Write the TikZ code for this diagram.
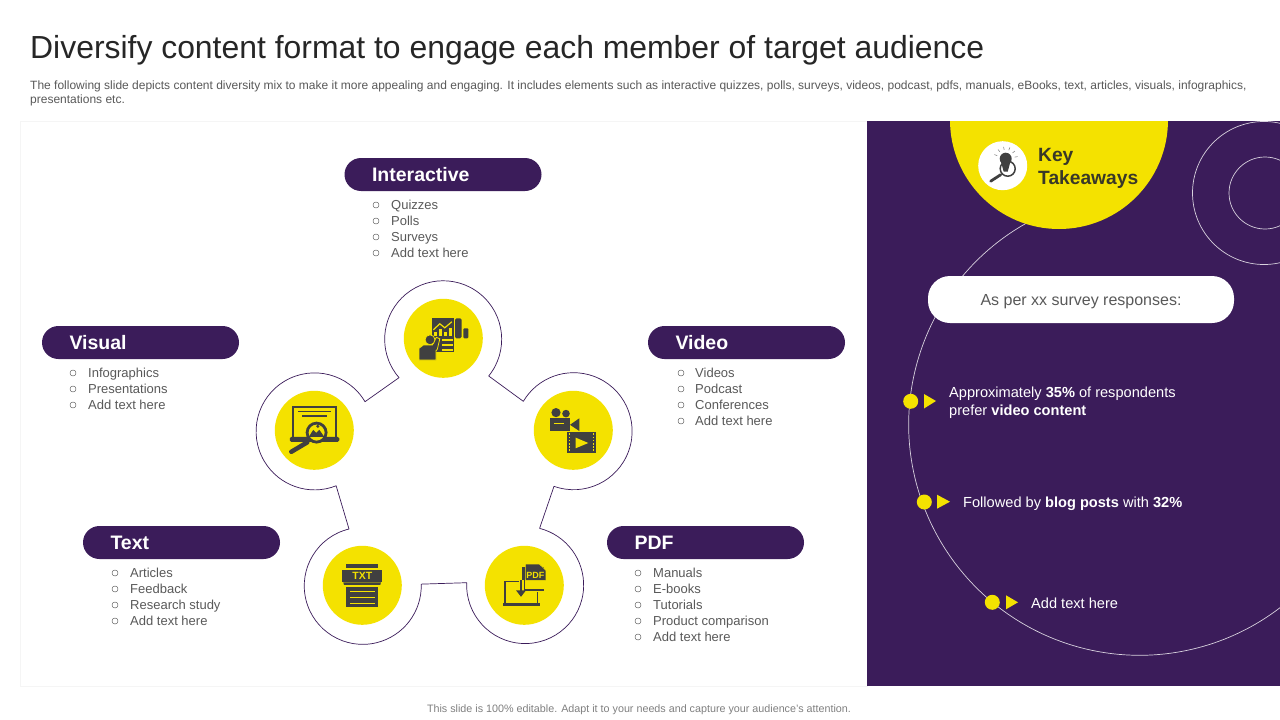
\documentclass[tikz,border=0pt]{standalone}
\usepackage{fontspec}
\setmainfont{Liberation Sans}
\usepackage{tikz}
\usetikzlibrary{calc,positioning}
\definecolor{deeppurple}{HTML}{3B1C5A}
\definecolor{keyyellow}{HTML}{F4E200}
\definecolor{icondark}{HTML}{404040}
\definecolor{bodygray}{HTML}{595959}
\newcommand{\pxfont}[1]{\fontsize{#1}{#1}\selectfont}

\begin{document}
\begin{tikzpicture}[
  x=1pt, y=-1pt,
  pill/.style={rectangle, fill=deeppurple, text=white, minimum height=33pt, minimum width=197pt, rounded corners=16.5pt, inner xsep=27.5pt, inner ysep=0pt, text width=142pt, align=left, font=\pxfont{19.5}\bfseries},
  listitem/.style={anchor=base west, inner sep=0pt, text=bodygray, font=\pxfont{13}},
  bulletring/.style={circle, draw=bodygray, line width=0.45pt, minimum size=6pt, inner sep=0pt},
  iconcircle/.style={circle, fill=keyyellow, minimum size=79pt, inner sep=0pt},
  dotmark/.style={circle, fill=keyyellow, minimum size=15pt, inner sep=0pt},
  takeaway/.style={anchor=west, inner sep=0pt, text=white, align=left, font=\fontsize{14.6}{18}\selectfont},
  guide/.style={draw=white!80!deeppurple, line width=0.7pt},
  iconline/.style={draw=keyyellow, line width=1.2pt}
]
\useasboundingbox (0,0) rectangle (1280,720);
\fill[white] (0,0) rectangle (1280,720);

% Header and footer
\node[anchor=base west, inner sep=0pt, text=black!85, font=\pxfont{31.9}] (title) at (30,58) {Diversify content format to engage each member of target audience};
\node[anchor=north west, inner sep=0pt, text=bodygray, align=left, font=\fontsize{12}{14}\selectfont] (subtitle) at (30,81) {The following slide depicts content diversity mix to make it more appealing and engaging. It includes elements such as interactive quizzes, polls, surveys, videos, podcast, pdfs, manuals, eBooks, text, articles, visuals, infographics,\\presentations etc.};
\node[inner sep=0pt, text=black!50, font=\pxfont{10.75}] (footer) at (639,709.5) {This slide is 100\% editable. Adapt it to your needs and capture your audience's attention.};

% Panels
\draw[black!4, fill=white] (20,121) rectangle (867,686);
\fill[deeppurple] (867,121) rectangle (1280,686);

% Right panel decoration
\coordinate (arcCentre) at (1139.6,424.4);
\begin{scope}
\clip (867,121) rectangle (1280,686);
\draw[guide] ($(arcCentre)+(245:230.9)$) arc (245:50:230.9);
\draw[guide] (1264,193) circle (71.5);
\draw[guide] (1265,193) circle (36);
\fill[keyyellow] (1059,120) circle (109);
\end{scope}

% Key takeaways badge
\node[circle, fill=white, minimum size=49pt, inner sep=0pt] (keybadge) at (1002.7,165.7) {};
\node[anchor=west, inner sep=0pt, text=icondark!90!keyyellow!70!black, align=left, font=\fontsize{19.2}{23}\selectfont\bfseries] (keytext) at (1038,168) {Key\\Takeaways};
\begin{scope}[shift={(keybadge.center)}]
\foreach \a in {-160,-130,-100,-70,-40,-10}
  \draw[icondark!70, line width=0.5pt] ($(3,-7)+(\a:9)$) -- ($(3,-7)+(\a:12)$);
\fill[icondark] (3,-7) circle (6);
\fill[icondark] (-2,-5) -- (8,-5) -- (5,6) -- (1,6) -- cycle;
\draw[icondark, line width=1.5pt] (5,3) circle (7.5);
\draw[icondark, line width=2.8pt, line cap=round] (-2,9) -- (-12,15.5);
\end{scope}

% Survey header
\node[rectangle, fill=white, minimum width=306pt, minimum height=47pt, rounded corners=22pt, inner sep=0pt, text=bodygray, text height=14pt, text depth=2pt, font=\pxfont{16}] (survey) at (1081,299.5) {As per xx survey responses:};

% Takeaway rows
\node[dotmark] (dotA) at (910.7,401.3) {};
\fill[keyyellow] (924,394) -- (936,401) -- (924,408.5) -- cycle;
\node[takeaway] (rowA) at (949,402.5) {Approximately \textbf{35\%} of respondents\\prefer \textbf{video content}};

\node[dotmark] (dotB) at (924.3,502) {};
\fill[keyyellow] (937,494.7) -- (950,501.7) -- (937,508.7) -- cycle;
\node[takeaway] (rowB) at (963,503.5) {Followed by \textbf{blog posts} with \textbf{32\%}};

\node[dotmark] (dotC) at (992.3,602.3) {};
\fill[keyyellow] (1006,595.3) -- (1018,602.3) -- (1006,609.3) -- cycle;
\node[takeaway] (rowC) at (1031,603.5) {Add text here};

% Category pills
\node[pill] (interactive) at (443,174.5) {Interactive};
\node[pill] (video) at (746.5,342.5) {Video};
\node[pill] (visual) at (140.5,342.5) {Visual};
\node[pill] (text) at (181.5,542.5) {Text};
\node[pill] (pdf) at (705.5,542.5) {PDF};

% Lists
\foreach \i/\t in {0/Quizzes,1/Polls,2/Surveys,3/Add text here} {
  \node[listitem] (intitem\i) at (391,209+16*\i) {\t};
  \node[bulletring] (intdot\i) at (376,205+16*\i) {};
}
\foreach \i/\t in {0/Videos,1/Podcast,2/Conferences,3/Add text here} {
  \node[listitem] (viditem\i) at (695,377+16*\i) {\t};
  \node[bulletring] (viddot\i) at (681,373+16*\i) {};
}
\foreach \i/\t in {0/Infographics,1/Presentations,2/Add text here} {
  \node[listitem] (visitem\i) at (88,377+16*\i) {\t};
  \node[bulletring] (visdot\i) at (73,373+16*\i) {};
}
\foreach \i/\t in {0/Articles,1/Feedback,2/Research study,3/Add text here} {
  \node[listitem] (txtitem\i) at (130,577+16*\i) {\t};
  \node[bulletring] (txtdot\i) at (115,573+16*\i) {};
}
\foreach \i/\t in {0/Manuals,1/E-books,2/Tutorials,3/Product comparison,4/Add text here} {
  \node[listitem] (pdfitem\i) at (653,577+16*\i) {\t};
  \node[bulletring] (pdfdot\i) at (638,573+16*\i) {};
}

% Ring outline
\draw[deeppurple, line width=0.7pt, line join=round]
  (488.7,376) arc (38.9:-221:58.5)
  -- (365,401.7) arc (-30.5:-291.6:58.5)
  -- (349,529) arc (256.4:-1.7:58.5)
  -- (466.7,582.7) arc (182.3:-75.7:58.5)
  -- (554,486.3) arc (109.6:-149.3:58.5)
  -- cycle;

% Icon discs
\node[iconcircle] (iconTop) at (443.3,338.3) {};
\node[iconcircle] (iconLeft) at (314.3,430.3) {};
\node[iconcircle] (iconRight) at (573.3,430.3) {};
\node[iconcircle] (iconTxt) at (362.3,585.3) {};
\node[iconcircle] (iconPdf) at (524.3,585.3) {};

% Interactive icon
\begin{scope}[shift={(iconTop.center)}]
\fill[icondark] (-11,-20) rectangle (10.7,14);
\fill[icondark, rounded corners=1.5pt] (11.7,-20) rectangle (18.3,0);
\fill[icondark, rounded corners=1pt] (20,-10) rectangle (25,0);
\foreach \x/\t in {-9/-6,-4/-9,1/-6,6/-10}
  \fill[keyyellow] (\x,\t) rectangle (\x+2.8,-2.5);
\draw[iconline] (-10,-8.5) -- (-3.5,-14.5) -- (1.5,-10.5) -- (8.5,-16.5);
\foreach \y in {1.7,6.7,11.7}
  \draw[iconline] (-1.5,\y) -- (9.5,\y);
\fill[icondark, draw=keyyellow, line width=0.8pt] (-24.3,21.7) -- (-24.3,10) -- (-20,6.7) -- (-11,6.7) -- (-7,-1) -- (-3.5,0.5) -- (-6,11) -- (-7.3,12.5) -- (-7.3,21.7) -- cycle;
\fill[icondark, draw=keyyellow, line width=0.8pt] (-13.3,1.5) circle (5);
\end{scope}

% Visual icon
\begin{scope}[shift={(iconLeft.center)}]
\draw[icondark, line width=1.8pt] (-21.7,8) -- (-21.7,-23) -- (22,-23) -- (22,8);
\fill[icondark, rounded corners=1.5pt] (-24.5,6.5) rectangle (25,11.5);
\draw[icondark, line width=1.5pt] (-16,-19) -- (16.5,-19);
\draw[icondark, line width=1.5pt] (-12,-14.5) -- (12.5,-14.5);
\draw[icondark, line width=4.5pt, line cap=round] (-7,12) -- (-23,21.5);
\fill[keyyellow, draw=icondark, line width=2.8pt] (2.3,2.3) circle (9.5);
\fill[icondark] (-5.5,6.5) -- (-1,-0.5) -- (2,2.5) -- (5,-0.5) -- (10,6.5) -- cycle;
\fill[icondark] (3.5,-4) circle (1.7);
\end{scope}

% Video icon
\begin{scope}[shift={(iconRight.center)}]
\fill[icondark] (-17.3,-17.7) circle (4.6);
\fill[icondark] (-7.3,-16.7) circle (3.8);
\fill[icondark] (-23.3,-12) rectangle (-3.3,0.7);
\fill[icondark] (-3.3,-5.5) -- (6,-12) -- (6,0.7) -- cycle;
\draw[keyyellow, line width=0.6pt] (-19.5,-7) -- (-9,-7);
\fill[icondark] (-6,2) rectangle (22.3,22.3);
\foreach \x in {-4.2,20.2}
  \draw[keyyellow, line width=1.1pt, dash pattern=on 1.6pt off 1.6pt] (\x,3) -- (\x,21.5);
\fill[keyyellow] (2.3,7.3) -- (15,12.7) -- (2.3,18) -- cycle;
\end{scope}

% Text icon
\begin{scope}[shift={(iconTxt.center)}]
\fill[icondark] (-16,-21) rectangle (16,-17);
\fill[icondark] (-20,-15.3) rectangle (19.7,-3);
\fill[icondark] (-19,-3) -- (18.7,-3) -- (18,-0.5) -- (-18.3,-0.5) -- cycle;
\fill[icondark] (-16,1.3) rectangle (16,21.7);
\foreach \y in {6.3,12.3,18}
  \draw[iconline] (-12.5,\y) -- (12.5,\y);
\node[inner sep=0pt, text=keyyellow, font=\pxfont{10.5}\bfseries] (txtlabel) at (0,-9.2) {TXT};
\end{scope}

% PDF icon
\begin{scope}[shift={(iconPdf.center)}]
\draw[icondark, line width=1.4pt] (-19.3,18) -- (-19.3,-3.7) -- (13,-3.7) -- (13,18);
\fill[icondark] (-21.5,17.5) rectangle (15.5,20.5);
\fill[keyyellow] (-2,-8) rectangle (20,7);
\fill[icondark] (-2,-18) rectangle (20,-6);
\fill[icondark] (-2,-18) rectangle (0.5,6);
\fill[icondark] (-2,3.5) rectangle (20,6);
\fill[icondark, draw=keyyellow, line width=0.5pt] (1,-21.3) -- (15,-21.3) -- (21.5,-15) -- (21.5,-5) -- (1,-5) -- cycle;
\node[inner sep=0pt, text=keyyellow, font=\pxfont{9}\bfseries] (pdflabel) at (11,-9.5) {PDF};
\fill[keyyellow] (-5,-5) rectangle (-0.5,7);
\draw[icondark, line width=1.8pt] (-3.3,-5) -- (-3.3,6);
\fill[icondark] (-8.3,5) -- (1.7,5) -- (-3.3,11.5) -- cycle;
\end{scope}

\end{tikzpicture}
\end{document}
